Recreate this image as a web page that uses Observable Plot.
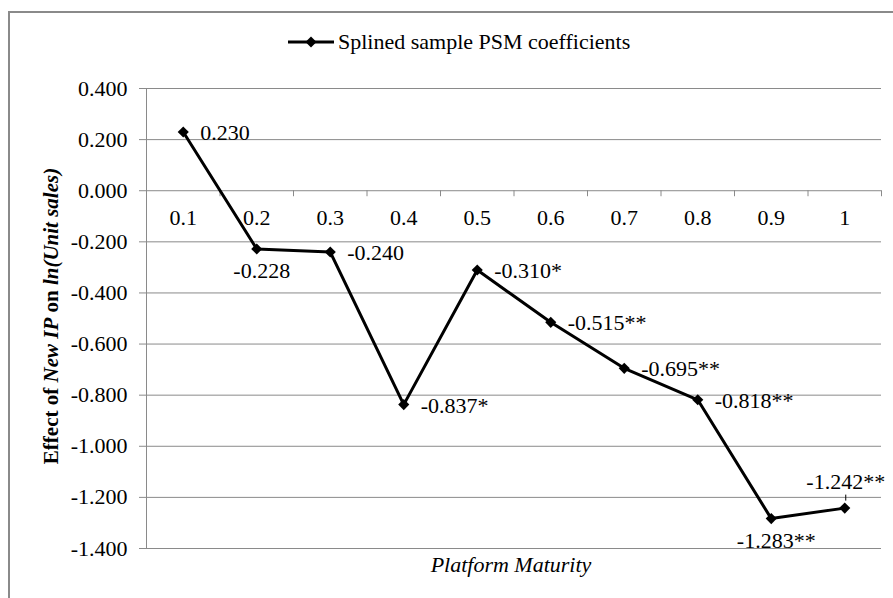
<!DOCTYPE html>
<html>
<head>
<meta charset="utf-8">
<script src="https://cdn.jsdelivr.net/npm/d3@7"></script>
<script src="https://cdn.jsdelivr.net/npm/@observablehq/plot@0.6"></script>
<style>
  body { margin: 0; background: #fff; }
  #wrap { position: relative; width: 893px; height: 598px; overflow: hidden; background: #fff;
          font-family: "Liberation Serif", "Times New Roman", serif; color: #000; }
  #chart { position: absolute; left: 0; top: 0; }
  #frame { position: absolute; left: 8px; top: 11px; width: 1000px; height: 1000px;
           border: 2px solid #8a8a8a; pointer-events: none; }
  #legend { position: absolute; left: 288px; top: 42px; transform: translateY(-50%);
            display: flex; align-items: center; font-size: 22px; white-space: nowrap; line-height: 1; }
  #legend svg { margin-right: 4px; }
  #ytitle { position: absolute; left: 51px; top: 316px; transform: translate(-50%, -50%) rotate(-90deg);
            font-size: 21px; font-weight: bold; white-space: nowrap; line-height: 1; }
  #xtitle { position: absolute; left: 511px; top: 565px; transform: translate(-50%, -50%);
            font-size: 22px; font-style: italic; white-space: nowrap; line-height: 1; }
</style>
</head>
<body>
<div id="wrap">
  <div id="chart"></div>
  <div id="legend"></div>
  <div id="ytitle"></div>
  <div id="xtitle"></div>
  <div id="frame"></div>
</div>
<script>
// ---- data ----
const maturity = [0.1, 0.2, 0.3, 0.4, 0.5, 0.6, 0.7, 0.8, 0.9, 1.0];
const xTickLabels = ["0.1", "0.2", "0.3", "0.4", "0.5", "0.6", "0.7", "0.8", "0.9", "1"];
const coefficients = [0.230, -0.228, -0.240, -0.837, -0.310, -0.515, -0.695, -0.818, -1.283, -1.242];
const significance = ["", "", "", "*", "*", "**", "**", "**", "**", "**"];
const yTicks = [0.4, 0.2, 0.0, -0.2, -0.4, -0.6, -0.8, -1.0, -1.2, -1.4];
const seriesName = "Splined sample PSM coefficients";
const xTitle = "Platform Maturity";

// ---- build table ----
const rows = maturity.map((m, i) => ({
  x: m,
  tick: xTickLabels[i],
  y: coefficients[i],
  label: coefficients[i].toFixed(3) + significance[i]
}));
const halfStep = (maturity[1] - maturity[0]) / 2;
const xDomain = [maturity[0] - halfStep, maturity[maturity.length - 1] + halfStep];
const bounds = [maturity[0] - halfStep, ...maturity.map(m => m + halfStep)];

const below = new Set(["0.2", "0.9"]);
const above = new Set(["1"]);

const gray = "#8a8a8a";
const font = "Liberation Serif, Times New Roman, serif";

const chart = Plot.plot({
  width: 893,
  height: 598,
  marginLeft: 146,
  marginRight: 12,
  marginTop: 88,
  marginBottom: 50,
  x: { type: "linear", domain: xDomain, axis: null },
  y: { domain: [yTicks[yTicks.length - 1], yTicks[0]], axis: null },
  style: { fontFamily: font, fontSize: "22px", background: "transparent", color: "#000" },
  marks: [
    Plot.gridY(yTicks, { stroke: gray, strokeOpacity: 1, strokeWidth: 1 }),
    Plot.ruleX([xDomain[0]], { stroke: gray, strokeWidth: 1 }),
    Plot.axisY(yTicks, {
      label: null,
      tickSize: 7, tickPadding: 12, tickFormat: d => d.toFixed(3),
      stroke: gray, fill: "#000", fontSize: 22, fontFamily: font
    }),
    Plot.ruleX(bounds, { x: d => d, y1: () => 0, y2: () => 0, insetBottom: -6, stroke: gray }),
    Plot.text(rows, { x: "x", y: () => 0, text: "tick", dy: 27, fill: "#000", fontSize: 22 }),
    Plot.line(rows, { x: "x", y: "y", stroke: "#000", strokeWidth: 3 }),
    Plot.dot(rows, { x: "x", y: "y", symbol: "diamond2", r: 5, fill: "#000", stroke: "none" }),
    Plot.text(rows, {
      filter: d => !below.has(d.tick) && !above.has(d.tick),
      x: "x", y: "y", text: "label", textAnchor: "start", dx: 17, dy: 1, fill: "#000", fontSize: 22
    }),
    Plot.text(rows, {
      filter: d => below.has(d.tick),
      x: "x", y: "y", text: "label", dx: 5, dy: 22, fill: "#000", fontSize: 22
    }),
    Plot.text(rows, {
      filter: d => above.has(d.tick),
      x: "x", y: "y", text: "label", dx: 1, dy: -26, fill: "#000", fontSize: 22
    }),
    Plot.ruleX(rows, {
      filter: d => above.has(d.tick),
      x: "x", y1: "y", y2: "y", insetTop: -13, insetBottom: 7, dx: 1, stroke: "#000", strokeWidth: 1
    })
  ]
});
document.getElementById("chart").appendChild(chart);

// ---- legend ----
document.getElementById("legend").innerHTML =
  '<svg width="46" height="14" viewBox="0 0 46 14">' +
  '<line x1="0" y1="7" x2="46" y2="7" stroke="#000" stroke-width="3"/>' +
  '<path d="M23 1.5 L28.5 7 L23 12.5 L17.5 7 Z" fill="#000"/></svg>' +
  '<span></span>';
document.querySelector("#legend span").textContent = seriesName;

// ---- axis titles ----
document.getElementById("ytitle").innerHTML =
  'Effect of <i>New IP</i> on <i>ln(Unit sales)</i>';
document.getElementById("xtitle").textContent = xTitle;
</script>
</body>
</html>
